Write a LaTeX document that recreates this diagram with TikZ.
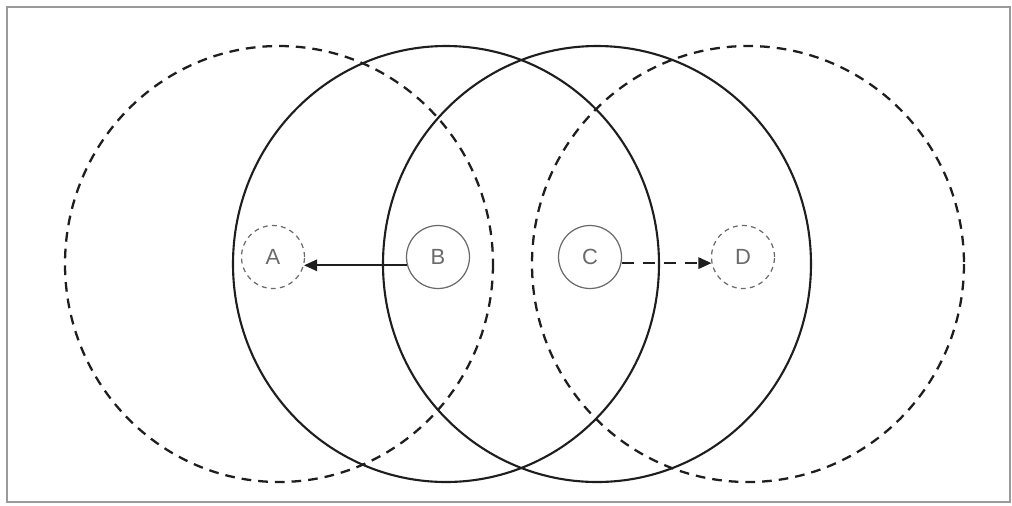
\documentclass[tikz,border=0pt]{standalone}
\usepackage{fontspec}
\setmainfont{Liberation Sans}
\usetikzlibrary{arrows.meta}
\definecolor{ink}{HTML}{1E1E1E}
\definecolor{soft}{HTML}{6A6A6A}
\definecolor{frame}{HTML}{9A9A9A}
\tikzset{
  bigsolid/.style={draw=ink, line width=1.2pt},
  bigdash/.style={draw=ink, line width=1.3pt, dash pattern=on 5.5pt off 4pt},
  smallnode/.style={circle, draw=soft, line width=0.7pt, minimum size=1.26cm, inner sep=0pt,
    text=soft, font=\fontsize{12.5}{14}\selectfont},
  smalldash/.style={smallnode, dash pattern=on 2.8pt off 2.4pt},
  conn/.style={draw=ink, line width=1.2pt, -{Triangle[length=7.5pt,width=6.5pt]}}
}
\begin{document}
\begin{tikzpicture}[x=0.02cm,y=-0.02cm]
\useasboundingbox (0,0) rectangle (1012,505);
\draw[frame, line width=1.2pt] (7,7) rectangle (1010,502);
% large circles
\draw[bigdash] (279,264) ellipse [x radius=214, y radius=218];
\draw[bigsolid] (446,264) ellipse [x radius=213, y radius=218];
\draw[bigsolid] (597,264) ellipse [x radius=214, y radius=218];
\draw[bigdash] (748,264) ellipse [x radius=216, y radius=218];
% small nodes
\node[smalldash] (A) at (273,257) {A};
\node[smallnode] (B) at (438,257) {B};
\node[smallnode] (C) at (590,257) {C};
\node[smalldash] (D) at (743,257) {D};
% connectors
\draw[conn] (B.195) -- (A.-15);
\draw[conn, dash pattern=on 7pt off 5pt] (C.-11) -- (D.191);
\end{tikzpicture}
\end{document}
